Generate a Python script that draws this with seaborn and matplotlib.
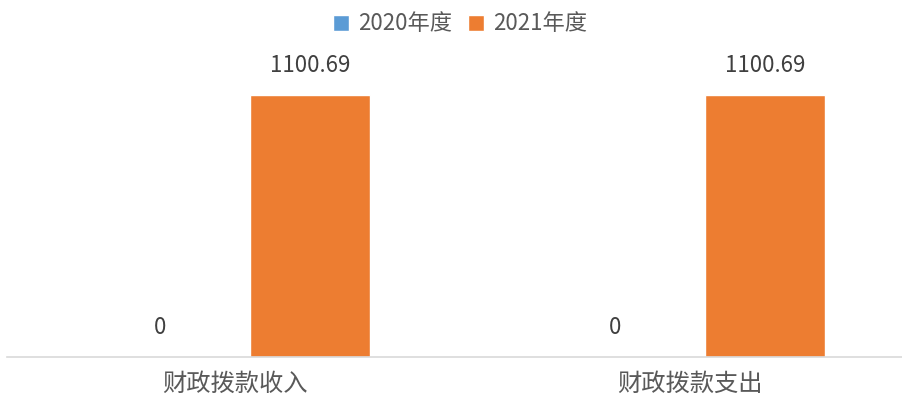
import pandas as pd
import matplotlib
matplotlib.use("Agg")
import matplotlib.pyplot as plt
import seaborn as sns

categories = ["财政拨款收入", "财政拨款支出"]
years = ["2020年度", "2021年度"]
values_2020 = [0, 0]
values_2021 = [1100.69, 1100.69]

COLORS = {"2020年度": "#5B9BD5", "2021年度": "#ED7D31"}
TEXT = "#595959"

sns.set_theme(style="white")
plt.rcParams["font.family"] = ["Noto Sans CJK SC", "DejaVu Sans"]

df = pd.DataFrame({
    "category": categories * 2,
    "year": [years[0]] * len(categories) + [years[1]] * len(categories),
    "value": values_2020 + values_2021,
})

fig = plt.figure(figsize=(9.02, 4.01), dpi=100)
ax = fig.add_axes([7 / 902, 1 - 357 / 401, 1 - 7 / 902, (357 - 40) / 401])

sns.barplot(data=df, x="category", y="value", hue="year", hue_order=years,
            palette=COLORS, width=0.66, gap=0.2, saturation=1, ax=ax)

for cont in ax.containers:
    ax.bar_label(cont, fmt="%g", padding=13, fontsize=16, color="#404040")

ax.set_xlim(-0.501, 1.466)
ax.set_ylim(0, 1332)
ax.set_xlabel("")
ax.set_ylabel("")
ax.set_yticks([])
for side in ["left", "right", "top"]:
    ax.spines[side].set_visible(False)
ax.spines["bottom"].set_color("#D9D9D9")
ax.spines["bottom"].set_linewidth(1.2)
ax.tick_params(axis="x", length=0, pad=10, labelsize=17.5, labelcolor=TEXT)

ax.legend(loc="center", bbox_to_anchor=(0.51, 1 - 24 / 401), bbox_transform=fig.transFigure,
          ncol=2, frameon=False, fontsize=16, labelcolor=TEXT,
          handlelength=0.75, handleheight=0.75, handletextpad=0.4, columnspacing=0.7)

fig.savefig("out.png", dpi=100)
